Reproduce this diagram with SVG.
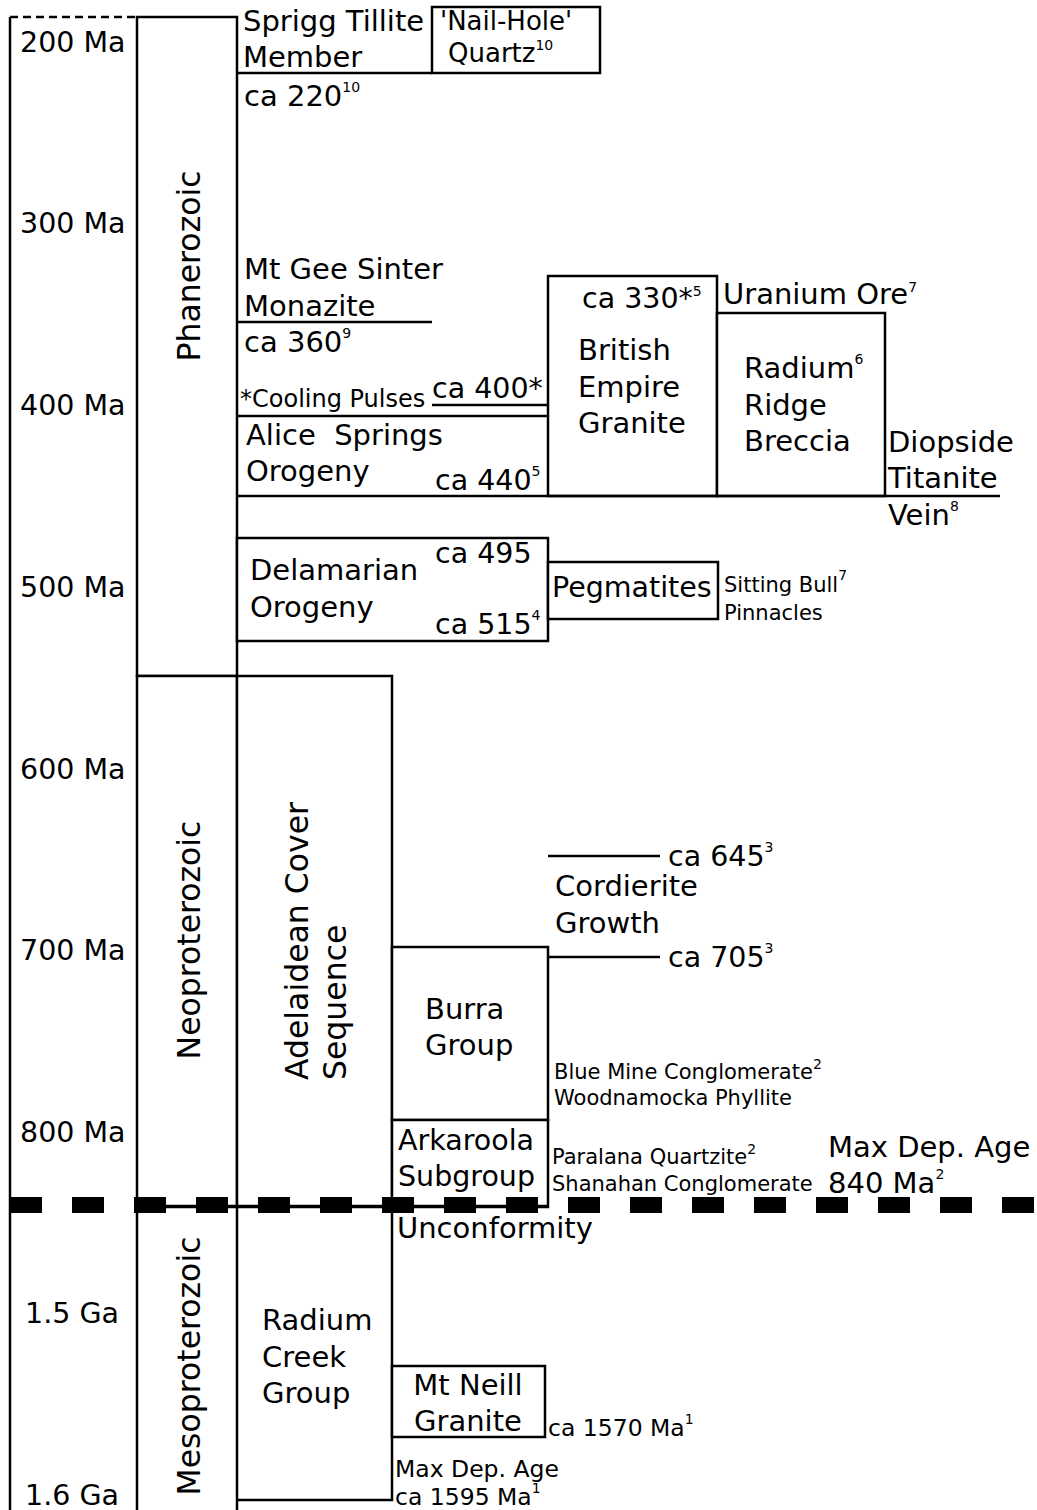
<svg xmlns="http://www.w3.org/2000/svg" width="1037" height="1510" viewBox="0 0 1037 1510">
<style>
.ln{fill:none;stroke:#000;stroke-width:2.5}
.bx{fill:#fff;stroke:#000;stroke-width:2.5}
text{font-family:"DejaVu Sans","Verdana",sans-serif;fill:#000}
.m{font-size:29px}
.a{font-size:28.5px}
.r{font-size:31.5px}
.s{font-size:21px}
.t{font-size:23.5px}
.sup{font-size:14px}
</style>
<rect x="0" y="0" width="1037" height="1510" fill="#fff"/>
<g id="axis">
<line class="ln" x1="10" y1="17" x2="137" y2="17" stroke-dasharray="8,5" stroke-width="2"/>
<line class="ln" x1="10" y1="17" x2="10" y2="1510"/>
<text class="a" x="20" y="52">200 Ma</text>
<text class="a" x="20" y="233">300 Ma</text>
<text class="a" x="20" y="415">400 Ma</text>
<text class="a" x="20" y="597">500 Ma</text>
<text class="a" x="20" y="779">600 Ma</text>
<text class="a" x="20" y="960">700 Ma</text>
<text class="a" x="20" y="1142">800 Ma</text>
<text class="a" x="25" y="1323">1.5 Ga</text>
<text class="a" x="25" y="1505">1.6 Ga</text>
</g>
<g id="phanerozoic">
<rect class="bx" x="137" y="17" width="100" height="659"/>
<text class="r" text-anchor="middle" transform="translate(200,266) rotate(-90)">Phanerozoic</text>
</g>
<g id="neoproterozoic">
<rect class="bx" x="137" y="676" width="100" height="531"/>
<text class="r" text-anchor="middle" transform="translate(200,940) rotate(-90)">Neoproterozoic</text>
</g>
<g id="mesoproterozoic">
<line class="ln" x1="137" y1="1207" x2="137" y2="1510"/>
<line class="ln" x1="237" y1="1207" x2="237" y2="1510"/>
<text class="r" text-anchor="middle" transform="translate(200,1366) rotate(-90)">Mesoproterozoic</text>
</g>
<g id="sprigg">
<line class="ln" x1="237" y1="73" x2="432" y2="73"/>
<text class="m" x="243" y="31">Sprigg Tillite</text>
<text class="m" x="243" y="67">Member</text>
<text class="m" x="244" y="106">ca 220<tspan class="sup" dy="-14">10</tspan></text>
</g>
<g id="nailhole">
<rect class="bx" x="432" y="7" width="168" height="66"/>
<text x="440" y="30" style="font-size:26px">'Nail-Hole'</text>
<text x="448" y="62" style="font-size:26px">Quartz<tspan class="sup" dy="-12">10</tspan></text>
</g>
<g id="mtgee">
<line class="ln" x1="237" y1="322" x2="432" y2="322"/>
<text class="m" x="244" y="279">Mt Gee Sinter</text>
<text class="m" x="244" y="316">Monazite</text>
<text class="m" x="244" y="352">ca 360<tspan class="sup" dy="-14">9</tspan></text>
</g>
<g id="alicesprings">
<line class="ln" x1="432" y1="405" x2="548" y2="405"/>
<line class="ln" x1="237" y1="416" x2="548" y2="416"/>
<text x="240" y="407" style="font-size:24px">*Cooling Pulses</text>
<text class="a" x="432" y="398">ca 400*</text>
<text class="m" x="246" y="445" style="white-space:pre">Alice  Springs</text>
<text class="m" x="246" y="481">Orogeny</text>
<text class="a" x="435" y="490">ca 440<tspan class="sup" dy="-14">5</tspan></text>
</g>
<g id="britishempire">
<rect class="bx" x="548" y="276" width="169" height="220"/>
<text class="a" x="582" y="308">ca 330*<tspan class="sup" dy="-12">5</tspan></text>
<text class="m" x="578" y="360">British</text>
<text class="m" x="578" y="397">Empire</text>
<text class="m" x="578" y="433">Granite</text>
</g>
<g id="radiumridge">
<rect class="bx" x="717" y="313" width="168" height="183"/>
<text class="m" x="723" y="304">Uranium Ore<tspan class="sup" dy="-12">7</tspan></text>
<text class="m" x="744" y="378">Radium<tspan class="sup" dy="-14">6</tspan></text>
<text class="m" x="744" y="415">Ridge</text>
<text class="m" x="744" y="451">Breccia</text>
</g>
<g id="diopside">
<line class="ln" x1="237" y1="496" x2="1000" y2="496"/>
<text class="m" x="888" y="452">Diopside</text>
<text class="m" x="888" y="488">Titanite</text>
<text class="m" x="888" y="525">Vein<tspan class="sup" dy="-14">8</tspan></text>
</g>
<g id="delamarian">
<rect class="bx" x="237" y="538" width="311" height="103"/>
<text class="m" x="250" y="580">Delamarian</text>
<text class="m" x="250" y="617">Orogeny</text>
<text class="a" x="435" y="563">ca 495</text>
<text class="a" x="435" y="634">ca 515<tspan class="sup" dy="-14">4</tspan></text>
</g>
<g id="pegmatites">
<rect class="bx" x="548" y="562" width="170" height="57"/>
<text class="a" x="552" y="597">Pegmatites</text>
<text class="s" x="724" y="592">Sitting Bull<tspan class="sup" dy="-12">7</tspan></text>
<text class="s" x="724" y="620">Pinnacles</text>
</g>
<g id="adelaidean">
<rect class="bx" x="237" y="676" width="155" height="531"/>
<text class="r" text-anchor="start" transform="translate(308,1080) rotate(-90)">Adelaidean Cover</text>
<text class="r" text-anchor="start" transform="translate(346,1080) rotate(-90)">Sequence</text>
</g>
<g id="cordierite">
<line class="ln" x1="548" y1="856" x2="660" y2="856"/>
<line class="ln" x1="548" y1="957" x2="660" y2="957"/>
<text class="a" x="668" y="866">ca 645<tspan class="sup" dy="-14">3</tspan></text>
<text class="m" x="555" y="896">Cordierite</text>
<text class="m" x="555" y="933">Growth</text>
<text class="a" x="668" y="967">ca 705<tspan class="sup" dy="-14">3</tspan></text>
</g>
<g id="burra">
<rect class="bx" x="392" y="947" width="156" height="173"/>
<text class="m" x="425" y="1019">Burra</text>
<text class="m" x="425" y="1055">Group</text>
<text class="s" x="554" y="1079">Blue Mine Conglomerate<tspan class="sup" dy="-10">2</tspan></text>
<text class="s" x="554" y="1105">Woodnamocka Phyllite</text>
</g>
<g id="arkaroola">
<rect class="bx" x="392" y="1120" width="156" height="87"/>
<text class="a" x="398" y="1150">Arkaroola</text>
<text class="a" x="398" y="1186">Subgroup</text>
<text class="s" x="552" y="1164">Paralana Quartzite<tspan class="sup" dy="-10">2</tspan></text>
<text class="s" x="552" y="1191">Shanahan Conglomerate</text>
<text class="m" x="828" y="1157">Max Dep. Age</text>
<text class="m" x="828" y="1193">840 Ma<tspan class="sup" dy="-14">2</tspan></text>
</g>
<g id="unconformity">
<line class="ln" x1="137" y1="1206" x2="548" y2="1206"/>
<line x1="10" y1="1205" x2="1037" y2="1205" stroke="#000" stroke-width="16" stroke-dasharray="32,30"/>
<text class="m" x="397" y="1238">Unconformity</text>
</g>
<g id="radiumcreek">
<polyline class="ln" points="392,1207 392,1500 237,1500"/>
<text class="m" x="262" y="1330">Radium</text>
<text class="m" x="262" y="1367">Creek</text>
<text class="m" x="262" y="1403">Group</text>
<text class="t" x="395" y="1477">Max Dep. Age</text>
<text class="t" x="395" y="1505">ca 1595 Ma<tspan class="sup" dy="-12">1</tspan></text>
</g>
<g id="mtneill">
<rect class="bx" x="392" y="1366" width="153" height="71"/>
<text class="m" x="468" y="1395" text-anchor="middle">Mt Neill</text>
<text class="m" x="468" y="1431" text-anchor="middle">Granite</text>
<text class="t" x="548" y="1436">ca 1570 Ma<tspan class="sup" dy="-12">1</tspan></text>
</g>
</svg>
